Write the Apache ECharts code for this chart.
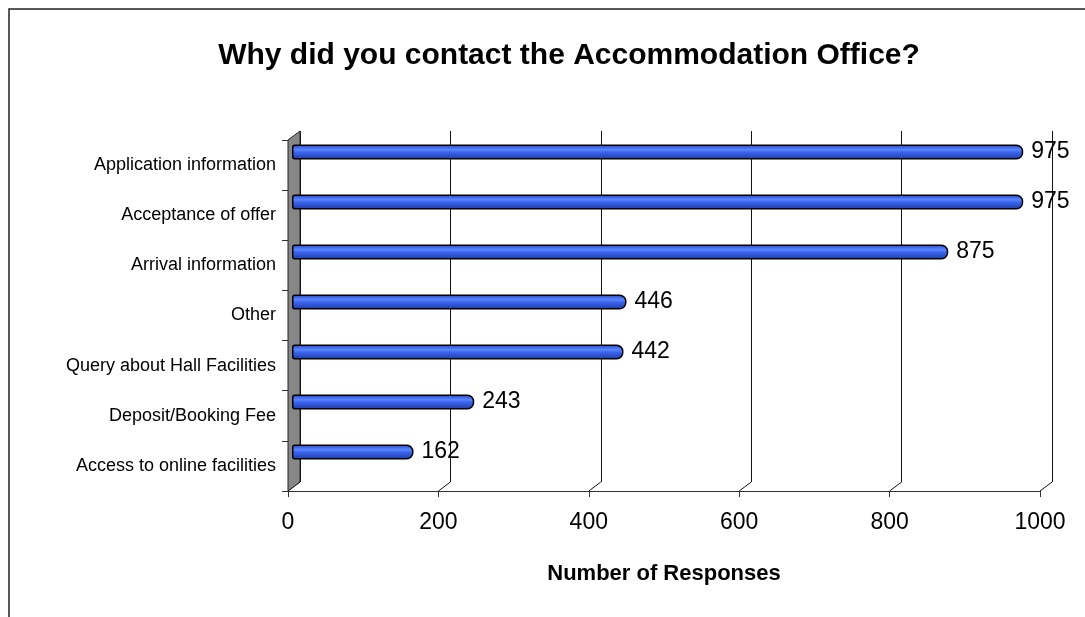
<!DOCTYPE html>
<html>
<head>
<meta charset="utf-8">
<script src="https://cdn.jsdelivr.net/npm/echarts@6/dist/echarts.min.js"></script>
<style>
  html, body { margin: 0; padding: 0; background: #fff; }
  #chart { width: 1085px; height: 617px; }
</style>
</head>
<body>
<div id="chart"></div>
<script>
// data
const categories = [
  'Application information',
  'Acceptance of offer',
  'Arrival information',
  'Other',
  'Query about Hall Facilities',
  'Deposit/Booking Fee',
  'Access to online facilities'
]
const responses = [975, 975, 875, 446, 442, 243, 162]
const xTicks = [0, 200, 400, 600, 800, 1000]

const FONT = '"Liberation Sans", Arial, sans-serif'
const depthX = 12, depthY = 9

const chart = echarts.init(document.getElementById('chart'))

// bar look: blue tube with a light stripe
const barFill = new echarts.graphic.LinearGradient(0, 0, 0, 1, [
  { offset: 0, color: '#2445c8' },
  { offset: 0.35, color: '#5a86ff' },
  { offset: 0.5, color: '#3d66f0' },
  { offset: 1, color: '#1d3aa8' }
])

chart.setOption({
  animation: false,
  title: {
    text: 'Why did you contact the Accommodation Office?',
    left: 564, top: 36, textAlign: 'center',
    textStyle: { fontFamily: FONT, fontSize: 30, fontWeight: 'bold', color: '#000' }
  },
  grid: [
    // front plane: axes and labels
    { left: 288, right: 45, top: 140, bottom: 126 },
    // back plane: gridlines
    { left: 288 + depthX, right: 45 - depthX, top: 140 - depthY, bottom: 126 + depthY },
    // bars
    { left: 292, right: 43, top: 127, bottom: 140 }
  ],
  xAxis: [
    {
      gridIndex: 0, type: 'value', min: 0, max: 1000, interval: 200,
      name: 'Number of Responses', nameLocation: 'middle', nameGap: 72,
      nameTextStyle: { fontFamily: FONT, fontSize: 22, fontWeight: 'bold', color: '#000' },
      axisLine: { show: true, lineStyle: { color: '#333', width: 1 } },
      axisTick: { show: true, length: 6, lineStyle: { color: '#333' } },
      axisLabel: { margin: 20, fontFamily: FONT, fontSize: 23, color: '#000',
        formatter: v => xTicks.includes(v) ? String(v) : '' },
      splitLine: { show: false }
    },
    {
      gridIndex: 1, type: 'value', min: 0, max: 1000, interval: 200,
      axisLine: { show: false }, axisTick: { show: false }, axisLabel: { show: false },
      splitLine: { show: true, lineStyle: { color: '#111', width: 1 } }
    },
    {
      gridIndex: 2, type: 'value', min: 0, max: 1000, show: false
    }
  ],
  yAxis: [
    {
      gridIndex: 0, type: 'category', data: categories, inverse: true,
      axisLine: { show: true, lineStyle: { color: '#333' } },
      axisTick: { show: true, length: 6, inside: false, lineStyle: { color: '#333' } },
      axisLabel: { margin: 12, fontFamily: FONT, fontSize: 18, color: '#000' }
    },
    { gridIndex: 1, type: 'category', data: categories, inverse: true, show: false },
    { gridIndex: 2, type: 'category', data: categories, inverse: true, show: false }
  ],
  series: [{
    type: 'bar',
    xAxisIndex: 2, yAxisIndex: 2,
    data: responses,
    barWidth: 15,
    itemStyle: { color: barFill, borderColor: '#000', borderWidth: 1.5, borderRadius: [2, 6, 6, 2] },
    label: {
      show: true, position: 'right', distance: 8,
      fontFamily: FONT, fontSize: 23, color: '#000'
    }
  }]
})

// 3D decoration: grey side wall, floor diagonals and outer frame
const r = chart.getModel().getComponent('grid', 0).coordinateSystem.getRect()
const floor = xTicks.map(v => {
  const x = chart.convertToPixel({ xAxisIndex: 0 }, v)
  return {
    type: 'line', z: 1,
    shape: { x1: x, y1: r.y + r.height, x2: x + depthX, y2: r.y + r.height - depthY },
    style: { stroke: '#111', lineWidth: 1 }
  }
})
chart.setOption({
  graphic: [
    {
      type: 'rect', z: 0,
      shape: { x: 9, y: 9, width: 1200, height: 800 },
      style: { fill: 'none', stroke: '#222', lineWidth: 1.5 }
    },
    {
      type: 'polygon', z: 2,
      shape: { points: [
        [r.x, r.y], [r.x + depthX, r.y - depthY],
        [r.x + depthX, r.y + r.height - depthY], [r.x, r.y + r.height]
      ] },
      style: { fill: '#878787', stroke: '#222', lineWidth: 1 }
    }
  ].concat(floor)
})
</script>
</body>
</html>
